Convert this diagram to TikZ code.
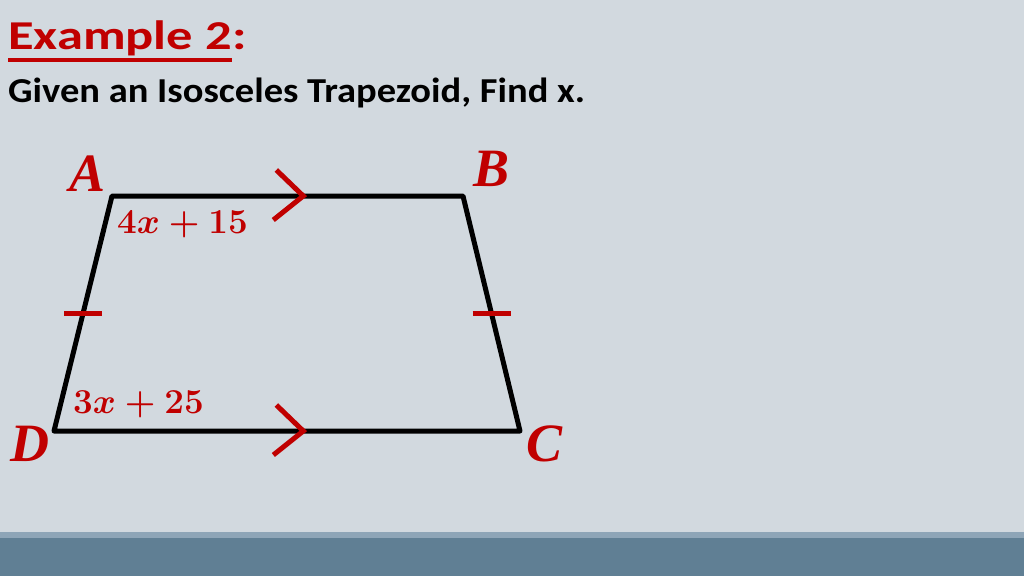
\documentclass[tikz,border=0pt]{standalone}
\usepackage{fix-cm}
\usepackage{fontspec}
\setmainfont{Carlito}
\newfontfamily\titlefont{Carlito}[FakeStretch=1.28]
\newfontfamily\taskfont{Carlito}[FakeStretch=1.1]
\newfontfamily\mathlbl{Liberation Serif}
\usetikzlibrary{positioning}

\definecolor{slidered}{HTML}{C00000}
\definecolor{slidebg}{HTML}{D2D9DF}
\definecolor{barlight}{HTML}{8EA5B7}
\definecolor{bardark}{HTML}{607F94}

\tikzset{
  side/.style={line width=5pt, line join=round, line cap=round},
  marker/.style={slidered, line width=5pt},
  vertex/.style={inner sep=0pt, text=slidered, font=\mathlbl\bfseries\itshape\fontsize{54}{60}\selectfont},
  expr/.style={inner sep=0pt, text=slidered, font=\fontsize{35}{40}\selectfont\boldmath},
  heading/.style={anchor=base west, inner sep=0pt, text=slidered, font=\titlefont\bfseries\fontsize{41}{48}\selectfont},
}

\begin{document}
\begin{tikzpicture}[x=1pt, y=-1pt]
    \useasboundingbox (0,0) rectangle (1024,576);
    \fill[slidebg] (0,0) rectangle (1024,576);
    \fill[barlight] (0,532) rectangle (1024,538);
    \fill[bardark] (0,538) rectangle (1024,576);

    % heading
    \node[heading] (ex) at (8,49) {Example 2};
    \node[heading] (colon) at (ex.base east) {:};
    \draw[slidered, line width=4pt] ([yshift=-11pt]ex.base west) -- ([yshift=-11pt]ex.base east);
    \node[anchor=base west, inner sep=0pt, font=\taskfont\bfseries\fontsize{35}{40}\selectfont] (task) at (8,102) {Given an Isosceles Trapezoid, Find x.};

    % trapezoid
    \coordinate (A) at (112,196);
    \coordinate (B) at (463,196);
    \coordinate (C) at (520,431);
    \coordinate (D) at (54,431);
    \draw[side] (A) -- (B) -- (C) -- (D) -- cycle;

    \node[vertex, above left = 4pt and 6pt of A] (lA) {A};
    \node[vertex, above right = 9pt and 10pt of B] (lB) {B};
    \node[vertex, right = 6pt of C, yshift=-13pt] (lC) {C};
    \node[vertex, left = 4pt of D, yshift=-13pt] (lD) {D};

    \node[expr, below right = 15pt and 5pt of A] (top) {$4x+15$};
    \node[expr, above right = 13pt and 19pt of D] (bottom) {$3x+25$};

    % congruent legs
    \path (A) -- (D) coordinate[midway] (mAD);
    \path (B) -- (C) coordinate[midway] (mBC);
    \draw[marker] ([xshift=-19pt]mAD) -- ([xshift=19pt]mAD);
    \draw[marker] ([xshift=-19pt]mBC) -- ([xshift=19pt]mBC);

    % parallel bases
    \path (A) -- (B) coordinate[pos=0.545] (pAB);
    \path (D) -- (C) coordinate[pos=0.535] (pDC);
    \draw[marker] ([shift={(-27pt,26pt)}]pAB) -- (pAB) -- ([shift={(-30pt,-24pt)}]pAB);
    \draw[marker] ([shift={(-27pt,26pt)}]pDC) -- (pDC) -- ([shift={(-30pt,-24pt)}]pDC);
\end{tikzpicture}
\end{document}
